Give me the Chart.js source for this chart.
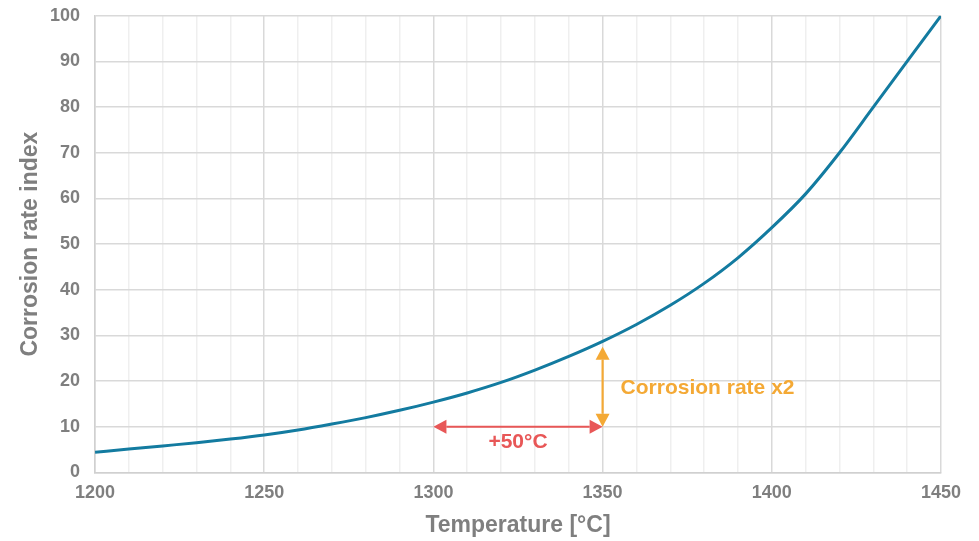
<!DOCTYPE html>
<html>
<head>
<meta charset="utf-8">
<script src="https://cdn.jsdelivr.net/npm/chart.js@4"></script>
<style>
  html, body { margin: 0; padding: 0; background: #fff; overflow: hidden; }
  #wrap { position: relative; top: -10px; width: 971px; height: 551px; }
</style>
</head>
<body>
<div id="wrap"><canvas id="myChart"></canvas></div>
<script>
// temperatures and corrosion rate index
var temps = [1200, 1210, 1220, 1230, 1240, 1250, 1260, 1270, 1280, 1290, 1300, 1310, 1320, 1330, 1340, 1350, 1360, 1370, 1380, 1390, 1400, 1410, 1420, 1430, 1440, 1450];
var rates = [4.4, 5.1, 5.8, 6.5, 7.3, 8.2, 9.3, 10.6, 12.0, 13.6, 15.4, 17.4, 19.7, 22.4, 25.4, 28.7, 32.4, 36.6, 41.4, 47.0, 53.6, 61.0, 70.0, 80.0, 90.0, 100];

// annotation arrows: [x1, y1, x2, y2]
var tempArrow = [1300, 10, 1350, 10];
var rateArrow = [1350, 10, 1350, 27.5];
var tempLabel = '+50°C';
var rateLabel = 'Corrosion rate x2';

var grey = '#7f7f7f';
var font = "'Liberation Sans', Arial, sans-serif";

function drawArrow(c, x1, y1, x2, y2, color) {
    var ang = Math.atan2(y2 - y1, x2 - x1);
    var head = 13, half = 7;
    c.save();
    c.strokeStyle = color;
    c.fillStyle = color;
    c.lineWidth = 2.2;
    c.beginPath();
    c.moveTo(x1 + Math.cos(ang) * head, y1 + Math.sin(ang) * head);
    c.lineTo(x2 - Math.cos(ang) * head, y2 - Math.sin(ang) * head);
    c.stroke();
    [[x1, y1, ang + Math.PI], [x2, y2, ang]].forEach(function (p) {
        c.beginPath();
        c.moveTo(p[0], p[1]);
        c.lineTo(p[0] - Math.cos(p[2]) * head - Math.sin(p[2]) * half, p[1] - Math.sin(p[2]) * head + Math.cos(p[2]) * half);
        c.lineTo(p[0] - Math.cos(p[2]) * head + Math.sin(p[2]) * half, p[1] - Math.sin(p[2]) * head - Math.cos(p[2]) * half);
        c.closePath();
        c.fill();
    });
    c.restore();
}

var arrowPlugin = {
    id: 'arrows',
    afterDatasetsDraw: function (chart) {
        var c = chart.ctx, xs = chart.scales.x, ys = chart.scales.y;
        var red = '#e85757', orange = '#f4a935';
        drawArrow(c, xs.getPixelForValue(tempArrow[0]), ys.getPixelForValue(tempArrow[1]),
                     xs.getPixelForValue(tempArrow[2]), ys.getPixelForValue(tempArrow[3]), red);
        drawArrow(c, xs.getPixelForValue(rateArrow[0]), ys.getPixelForValue(rateArrow[1]),
                     xs.getPixelForValue(rateArrow[2]), ys.getPixelForValue(rateArrow[3]), orange);
        c.save();
        c.font = 'bold 21px ' + font;
        c.textBaseline = 'middle';
        c.textAlign = 'center';
        c.fillStyle = red;
        c.fillText(tempLabel, xs.getPixelForValue((tempArrow[0] + tempArrow[2]) / 2), ys.getPixelForValue(tempArrow[1]) + 15);
        c.textAlign = 'left';
        c.fillStyle = orange;
        c.fillText(rateLabel, xs.getPixelForValue(rateArrow[0]) + 18, ys.getPixelForValue((rateArrow[1] + rateArrow[3]) / 2) + 1);
        c.restore();
    }
};

var ctx = document.getElementById('myChart').getContext('2d');
var chart = new Chart(ctx, {
    type: 'line',
    data: {
        datasets: [{
            data: temps.map(function (t, i) { return { x: t, y: rates[i] }; }),
            borderColor: '#137ba0',
            borderWidth: 3,
            pointRadius: 0,
            cubicInterpolationMode: 'monotone',
            fill: false
        }]
    },
    options: {
        responsive: true,
        maintainAspectRatio: false,
        animation: false,
        layout: { padding: { left: 19, right: 26, top: 0, bottom: 4 } },
        plugins: { legend: { display: false }, tooltip: { enabled: false } },
        scales: {
            x: {
                type: 'linear',
                min: 1200,
                max: 1450,
                border: { color: '#d0d0d0', width: 1.5 },
                grid: {
                    drawTicks: false,
                    color: function (c) { return c.tick.value % 50 === 0 ? '#d9d9d9' : '#efefef'; },
                    lineWidth: 1.5
                },
                ticks: {
                    stepSize: 10,
                    autoSkip: false,
                    maxRotation: 0,
                    padding: 10,
                    color: grey,
                    font: { family: font, size: 18, weight: 'bold' },
                    callback: function (v) { return v % 50 === 0 ? v : ''; }
                },
                title: {
                    display: true,
                    text: 'Temperature [°C]',
                    color: grey,
                    padding: { top: 0, bottom: 0 },
                    font: { family: font, size: 23, weight: 'bold', lineHeight: 1 }
                }
            },
            y: {
                min: 0,
                max: 100,
                border: { color: '#d0d0d0', width: 1.5 },
                grid: { drawTicks: false, color: '#d9d9d9', lineWidth: 1.5 },
                ticks: {
                    stepSize: 10,
                    padding: 15,
                    color: grey,
                    font: { family: font, size: 18, weight: 'bold' }
                },
                title: {
                    display: true,
                    text: 'Corrosion rate index',
                    color: grey,
                    padding: { top: 0, bottom: -7 },
                    font: { family: font, size: 23, weight: 'bold', lineHeight: 1 }
                }
            }
        }
    },
    plugins: [arrowPlugin]
});
</script>
</body>
</html>
